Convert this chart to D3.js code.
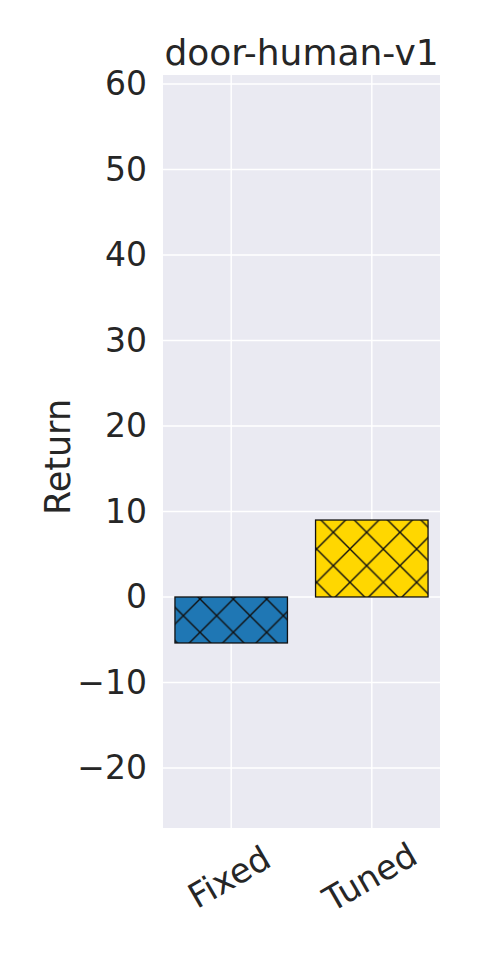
<!DOCTYPE html>
<html>
<head>
<meta charset="utf-8">
<script src="https://cdn.jsdelivr.net/npm/d3@7"></script>
<style>
  body { margin: 0; background: #fff; }
  svg { display: block; font-family: "DejaVu Sans", sans-serif; }
</style>
</head>
<body>
<svg width="480" height="960"></svg>
<script>
let categories = ["Fixed", "Tuned"];
let values = [-5.38, 9.0];
let colors = ["#1f77b4", "#ffd700"];
let yTicks = [-20, -10, 0, 10, 20, 30, 40, 50, 60];
let title = "door-human-v1";
let yLabel = "Return";

let svg = d3.select("svg");
let plotL = 163, plotR = 440, plotT = 75, plotB = 828;
let ink = "#262626";

let x = d3.scaleLinear().domain([-0.485, 1.485]).range([plotL, plotR]);
let y = d3.scaleLinear().domain([-27.02, 61.05]).range([plotB, plotT]);
let barW = (x(1) - x(0)) * 0.8;

//hatch pattern, anchored to the page like matplotlib does
let period = 33.33;
let defs = svg.append("defs");
let pat = defs.append("pattern")
  .attr("id", "hatch")
  .attr("patternUnits", "userSpaceOnUse")
  .attr("x", 200).attr("y", 599)
  .attr("width", period).attr("height", period);
pat.append("path")
  .attr("d", `M-2,-2L${period + 2},${period + 2}M${period + 2},-2L-2,${period + 2}`)
  .attr("stroke", "#111")
  .attr("stroke-width", 1.4)
  .attr("fill", "none");

//background
svg.append("rect")
  .attr("x", plotL).attr("y", plotT)
  .attr("width", plotR - plotL).attr("height", plotB - plotT)
  .attr("fill", "#eaeaf2");

//grid
svg.selectAll(".hgrid")
  .data(yTicks)
  .enter()
  .append("line")
  .attr("x1", plotL).attr("x2", plotR)
  .attr("y1", d => y(d)).attr("y2", d => y(d))
  .attr("stroke", "#fff").attr("stroke-width", 1.4);

svg.selectAll(".vgrid")
  .data(categories)
  .enter()
  .append("line")
  .attr("x1", (d, i) => x(i)).attr("x2", (d, i) => x(i))
  .attr("y1", plotT).attr("y2", plotB)
  .attr("stroke", "#fff").attr("stroke-width", 1.4);

//bars
let bars = svg.selectAll(".bar")
  .data(values)
  .enter()
  .append("g");

bars.append("rect")
  .attr("x", (d, i) => x(i) - barW / 2)
  .attr("y", d => y(Math.max(0, d)))
  .attr("width", barW)
  .attr("height", d => Math.abs(y(d) - y(0)))
  .attr("fill", (d, i) => colors[i]);

bars.append("rect")
  .attr("x", (d, i) => x(i) - barW / 2)
  .attr("y", d => y(Math.max(0, d)))
  .attr("width", barW)
  .attr("height", d => Math.abs(y(d) - y(0)))
  .attr("fill", "url(#hatch)")
  .attr("stroke", "#111")
  .attr("stroke-width", 1.3);

//y axis
let yAxis = svg.append("g")
  .attr("transform", `translate(${plotL},0)`)
  .call(d3.axisLeft(y).tickValues(yTicks).tickSize(0).tickPadding(16));
yAxis.select(".domain").remove();
yAxis.selectAll("text")
  .attr("fill", ink)
  .style("font-size", "33px")
  .style("font-family", "DejaVu Sans");

//x labels
svg.selectAll(".xlab")
  .data(categories)
  .enter()
  .append("text")
  .attr("transform", (d, i) => `translate(${x(i) - 2},877) rotate(-30)`)
  .attr("text-anchor", "middle")
  .attr("dy", "0.35em")
  .attr("fill", ink)
  .style("font-size", "34px")
  .text(d => d);

//title
svg.append("text")
  .attr("x", (plotL + plotR) / 2)
  .attr("y", 65)
  .attr("text-anchor", "middle")
  .attr("fill", ink)
  .style("font-size", "36px")
  .text(title);

//y label
svg.append("text")
  .attr("transform", `translate(70,457) rotate(-90)`)
  .attr("text-anchor", "middle")
  .attr("fill", ink)
  .style("font-size", "35px")
  .text(yLabel);
</script>
</body>
</html>
